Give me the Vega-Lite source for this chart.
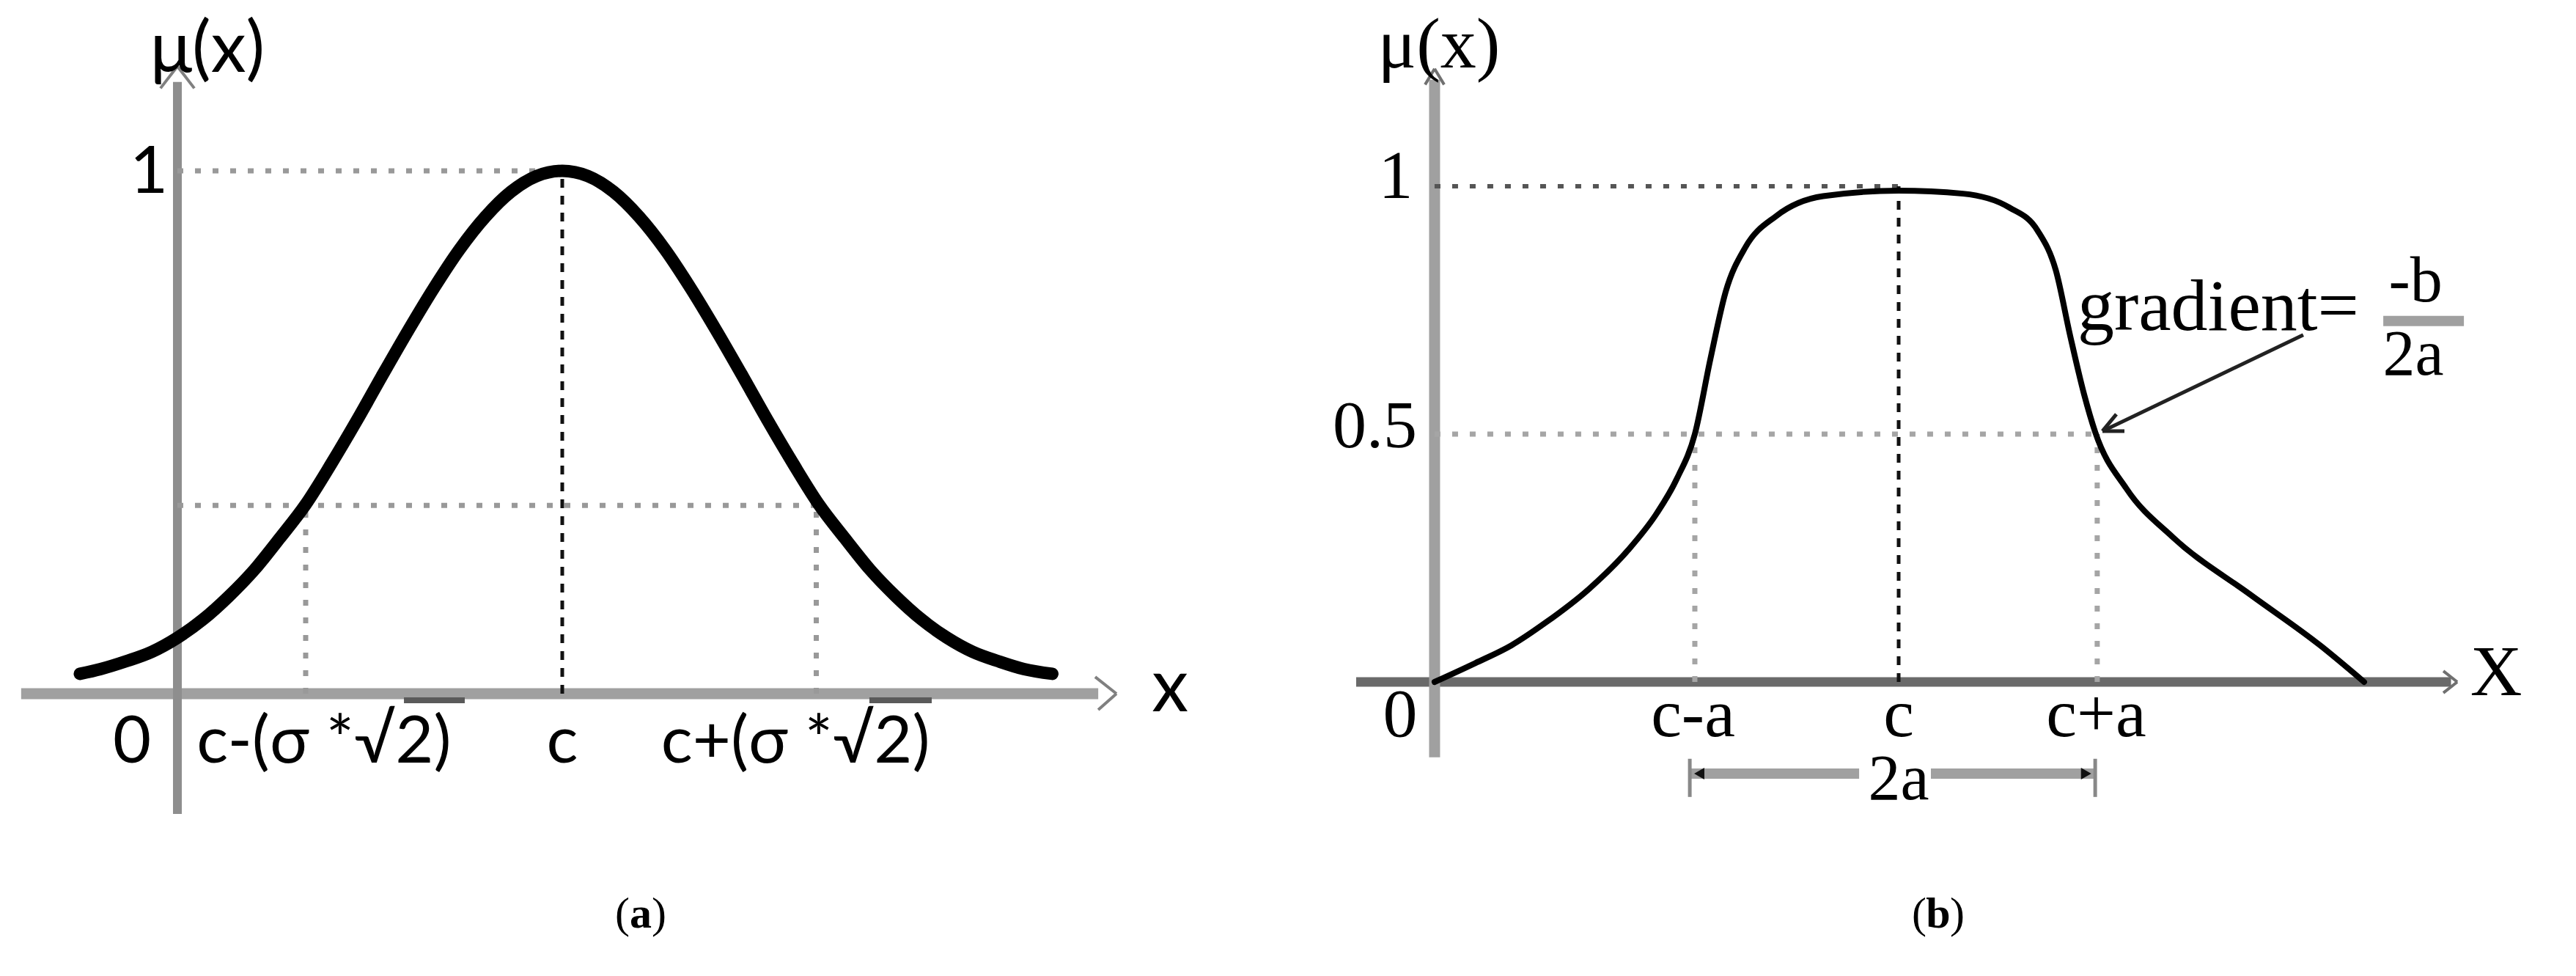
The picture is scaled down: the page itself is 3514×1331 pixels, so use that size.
{
  "$schema": "https://vega.github.io/schema/vega-lite/v6.json",
  "padding": 0,
  "spacing": 0,
  "background": "white",
  "config": {"view": {"stroke": null}},
  "datasets": {
    "curveA": [
      {"x": -1.88, "mu": 0.038}, {"x": -1.8, "mu": 0.047}, {"x": -1.7, "mu": 0.062}, {"x": -1.6, "mu": 0.08},
      {"x": -1.5, "mu": 0.107}, {"x": -1.4, "mu": 0.142}, {"x": -1.3, "mu": 0.186}, {"x": -1.2, "mu": 0.237},
      {"x": -1.1, "mu": 0.298}, {"x": -1.0, "mu": 0.362}, {"x": -0.9, "mu": 0.44}, {"x": -0.8, "mu": 0.523},
      {"x": -0.7, "mu": 0.61}, {"x": -0.6, "mu": 0.695}, {"x": -0.5, "mu": 0.776}, {"x": -0.4, "mu": 0.85},
      {"x": -0.3, "mu": 0.912}, {"x": -0.2, "mu": 0.96}, {"x": -0.1, "mu": 0.99}, {"x": 0, "mu": 1.0},
      {"x": 0.1, "mu": 0.99}, {"x": 0.2, "mu": 0.96}, {"x": 0.3, "mu": 0.912}, {"x": 0.4, "mu": 0.85},
      {"x": 0.5, "mu": 0.776}, {"x": 0.6, "mu": 0.695}, {"x": 0.7, "mu": 0.61}, {"x": 0.8, "mu": 0.523},
      {"x": 0.9, "mu": 0.44}, {"x": 1.0, "mu": 0.362}, {"x": 1.1, "mu": 0.298}, {"x": 1.2, "mu": 0.237},
      {"x": 1.3, "mu": 0.186}, {"x": 1.4, "mu": 0.142}, {"x": 1.5, "mu": 0.107}, {"x": 1.6, "mu": 0.08},
      {"x": 1.7, "mu": 0.062}, {"x": 1.8, "mu": 0.047}, {"x": 1.91, "mu": 0.038}
    ],
    "curveB": [
      {"x": -2.302, "mu": 0}, {"x": -2.1, "mu": 0.038}, {"x": -1.92, "mu": 0.074}, {"x": -1.75, "mu": 0.12},
      {"x": -1.535, "mu": 0.188}, {"x": -1.342, "mu": 0.266}, {"x": -1.2, "mu": 0.34}, {"x": -1.1, "mu": 0.41},
      {"x": -1.011, "mu": 0.5}, {"x": -0.934, "mu": 0.651}, {"x": -0.858, "mu": 0.787}, {"x": -0.76, "mu": 0.877},
      {"x": -0.607, "mu": 0.94}, {"x": -0.375, "mu": 0.98}, {"x": 0, "mu": 0.991}, {"x": 0.32, "mu": 0.985},
      {"x": 0.549, "mu": 0.957}, {"x": 0.69, "mu": 0.91}, {"x": 0.78, "mu": 0.83}, {"x": 0.85, "mu": 0.7},
      {"x": 0.92, "mu": 0.58}, {"x": 0.975, "mu": 0.504}, {"x": 1.13, "mu": 0.39}, {"x": 1.36, "mu": 0.292},
      {"x": 1.745, "mu": 0.176}, {"x": 2.09, "mu": 0.074}, {"x": 2.309, "mu": 0}
    ],
    "segA": [
      {"kind": "axisX", "x": -2.109, "y": 0, "x2": 2.089, "y2": 0},
      {"kind": "axisY", "x": -1.5, "y": -0.23, "x2": -1.5, "y2": 1.17},
      {"kind": "arrow", "x": 2.077, "y": 0.032, "x2": 2.16, "y2": 0},
      {"kind": "arrow", "x": 2.16, "y": 0, "x2": 2.089, "y2": -0.031},
      {"kind": "arrow", "x": -1.566, "y": 1.158, "x2": -1.5, "y2": 1.2},
      {"kind": "arrow", "x": -1.5, "y": 1.2, "x2": -1.434, "y2": 1.158},
      {"kind": "dotted", "x": -1.5, "y": 1, "x2": 0, "y2": 1},
      {"kind": "dotted", "x": -1.5, "y": 0.36, "x2": 0.99, "y2": 0.36},
      {"kind": "dotted", "x": -1, "y": 0, "x2": -1, "y2": 0.36},
      {"kind": "dotted", "x": 0.99, "y": 0, "x2": 0.99, "y2": 0.36},
      {"kind": "dashed", "x": 0, "y": 0, "x2": 0, "y2": 1},
      {"kind": "overline", "x": -0.617, "y": -0.0126, "x2": -0.38, "y2": -0.0126},
      {"kind": "overline", "x": 1.197, "y": -0.0126, "x2": 1.44, "y2": -0.0126}
    ],
    "segB": [
      {"kind": "axisX", "x": -2.691, "y": 0, "x2": 2.74, "y2": 0},
      {"kind": "axisY", "x": -2.302, "y": -0.152, "x2": -2.302, "y2": 1.215},
      {"kind": "arrow", "x": -2.349, "y": 1.205, "x2": -2.302, "y2": 1.237},
      {"kind": "arrow", "x": -2.302, "y": 1.237, "x2": -2.2545, "y2": 1.205},
      {"kind": "arrow", "x": 2.702, "y": 0.022, "x2": 2.771, "y2": 0},
      {"kind": "arrow", "x": 2.771, "y": 0, "x2": 2.702, "y2": -0.022},
      {"kind": "dottedDark", "x": -2.302, "y": 1, "x2": 0, "y2": 1},
      {"kind": "dotted", "x": -2.302, "y": 0.5, "x2": 0.985, "y2": 0.5},
      {"kind": "dotted", "x": -1.011, "y": 0, "x2": -1.011, "y2": 0.5},
      {"kind": "dotted", "x": 0.985, "y": 0, "x2": 0.985, "y2": 0.5},
      {"kind": "dashed", "x": 0, "y": 0, "x2": 0, "y2": 1},
      {"kind": "dim", "x": -1.036, "y": -0.185, "x2": -0.196, "y2": -0.185},
      {"kind": "dim", "x": 0.16, "y": -0.185, "x2": 0.975, "y2": -0.185},
      {"kind": "dim", "x": 2.404, "y": 0.728, "x2": 2.804, "y2": 0.728},
      {"kind": "tick", "x": -1.036, "y": -0.155, "x2": -1.036, "y2": -0.232},
      {"kind": "tick", "x": 0.975, "y": -0.155, "x2": 0.975, "y2": -0.232},
      {"kind": "pointer", "x": 2.007, "y": 0.7, "x2": 1.011, "y2": 0.506},
      {"kind": "pointer", "x": 1.011, "y": 0.506, "x2": 1.12, "y2": 0.506},
      {"kind": "pointer", "x": 1.011, "y": 0.506, "x2": 1.08, "y2": 0.54}
    ],
    "textA": [
      {"role": "yTitle", "label": "μ(x)", "x": -1.383, "y": 1.19},
      {"role": "xTitle", "label": "x", "x": 2.369, "y": -0.034},
      {"role": "tick", "label": "1", "x": -1.611, "y": 0.958},
      {"role": "tick", "label": "0", "x": -1.677, "y": -0.132},
      {"role": "tick", "label": "c-(σ *√2)", "x": -0.929, "y": -0.132},
      {"role": "tick", "label": "c", "x": 0, "y": -0.132},
      {"role": "tick", "label": "c+(σ *√2)", "x": 0.909, "y": -0.132}
    ],
    "textB": [
      {"role": "yTitle", "label": "μ(x)", "x": -2.28, "y": 1.24},
      {"role": "xTitle", "label": "X", "x": 2.964, "y": -0.027},
      {"role": "tick", "label": "1", "x": -2.495, "y": 0.976},
      {"role": "tick", "label": "0", "x": -2.473, "y": -0.11},
      {"role": "tick", "label": "c-a", "x": -1.02, "y": -0.11},
      {"role": "tick", "label": "c", "x": 0, "y": -0.11},
      {"role": "tick", "label": "c+a", "x": 0.98, "y": -0.11},
      {"role": "dim", "label": "2a", "x": 0, "y": -0.236},
      {"role": "fraction", "label": "-b", "x": 2.564, "y": 0.768},
      {"role": "fraction", "label": "2a", "x": 2.553, "y": 0.62},
      {"role": "value", "label": "0.5", "x": -2.389, "y": 0.473},
      {"role": "annotation", "label": "gradient=", "x": 0.887, "y": 0.71}
    ],
    "dimEnds": [
      {"x": -0.989, "y": -0.185, "dir": "left"},
      {"x": 0.93, "y": -0.185, "dir": "right"}
    ],
    "capA": [{"x": 0.306, "y": -0.447, "letter": "a"}],
    "capB": [{"x": 0.196, "y": -0.4956, "letter": "b"}]
  },
  "hconcat": [
    {
      "width": 1757,
      "height": 1331,
      "layer": [
        {"data": {"name": "segA"}, "transform": [{"filter": "datum.kind === 'axisX'"}],
         "mark": {"type": "rule", "color": "#a0a0a0", "strokeWidth": 15},
         "encoding": {"x": {"field": "x", "type": "quantitative", "scale": {"domain": [-2.1914, 2.8286], "nice": false, "zero": false}, "axis": null},
                      "y": {"field": "y", "type": "quantitative", "scale": {"domain": [-0.54, 1.3268], "nice": false, "zero": false}, "axis": null},
                      "x2": {"field": "x2"}, "y2": {"field": "y2"}}},
        {"data": {"name": "segA"}, "transform": [{"filter": "datum.kind === 'axisY'"}],
         "mark": {"type": "rule", "color": "#8e8e8e", "strokeWidth": 12},
         "encoding": {"x": {"field": "x", "type": "quantitative", "scale": {"domain": [-2.1914, 2.8286], "nice": false, "zero": false}, "axis": null},
                      "y": {"field": "y", "type": "quantitative", "scale": {"domain": [-0.54, 1.3268], "nice": false, "zero": false}, "axis": null},
                      "x2": {"field": "x2"}, "y2": {"field": "y2"}}},
        {"data": {"name": "segA"}, "transform": [{"filter": "datum.kind === 'arrow'"}],
         "mark": {"type": "rule", "color": "#808080", "strokeWidth": 4},
         "encoding": {"x": {"field": "x", "type": "quantitative", "scale": {"domain": [-2.1914, 2.8286], "nice": false, "zero": false}, "axis": null},
                      "y": {"field": "y", "type": "quantitative", "scale": {"domain": [-0.54, 1.3268], "nice": false, "zero": false}, "axis": null},
                      "x2": {"field": "x2"}, "y2": {"field": "y2"}}},
        {"data": {"name": "segA"}, "transform": [{"filter": "datum.kind === 'dotted'"}],
         "mark": {"type": "rule", "color": "#999999", "strokeWidth": 7, "strokeDash": [8, 16]},
         "encoding": {"x": {"field": "x", "type": "quantitative", "scale": {"domain": [-2.1914, 2.8286], "nice": false, "zero": false}, "axis": null},
                      "y": {"field": "y", "type": "quantitative", "scale": {"domain": [-0.54, 1.3268], "nice": false, "zero": false}, "axis": null},
                      "x2": {"field": "x2"}, "y2": {"field": "y2"}}},
        {"data": {"name": "segA"}, "transform": [{"filter": "datum.kind === 'dashed'"}],
         "mark": {"type": "rule", "color": "#111111", "strokeWidth": 5, "strokeDash": [12, 11]},
         "encoding": {"x": {"field": "x", "type": "quantitative", "scale": {"domain": [-2.1914, 2.8286], "nice": false, "zero": false}, "axis": null},
                      "y": {"field": "y", "type": "quantitative", "scale": {"domain": [-0.54, 1.3268], "nice": false, "zero": false}, "axis": null},
                      "x2": {"field": "x2"}, "y2": {"field": "y2"}}},
        {"data": {"name": "segA"}, "transform": [{"filter": "datum.kind === 'overline'"}],
         "mark": {"type": "rule", "color": "#5a5a5a", "strokeWidth": 8},
         "encoding": {"x": {"field": "x", "type": "quantitative", "scale": {"domain": [-2.1914, 2.8286], "nice": false, "zero": false}, "axis": null},
                      "y": {"field": "y", "type": "quantitative", "scale": {"domain": [-0.54, 1.3268], "nice": false, "zero": false}, "axis": null},
                      "x2": {"field": "x2"}, "y2": {"field": "y2"}}},
        {"data": {"name": "curveA"},
         "mark": {"type": "line", "color": "#000000", "strokeWidth": 17, "interpolate": "monotone", "strokeCap": "round", "strokeJoin": "round"},
         "encoding": {"x": {"field": "x", "type": "quantitative", "scale": {"domain": [-2.1914, 2.8286], "nice": false, "zero": false}, "axis": null},
                      "y": {"field": "mu", "type": "quantitative", "scale": {"domain": [-0.54, 1.3268], "nice": false, "zero": false}, "axis": null},
                      "order": {"field": "x", "type": "quantitative"}}},
        {"data": {"name": "textA"}, "transform": [{"filter": "datum.role === 'tick'"}],
         "mark": {"type": "text", "font": "Lato, DejaVu Sans", "fontSize": 90, "align": "center", "baseline": "alphabetic", "color": "#000000"},
         "encoding": {"x": {"field": "x", "type": "quantitative", "scale": {"domain": [-2.1914, 2.8286], "nice": false, "zero": false}, "axis": null},
                      "y": {"field": "y", "type": "quantitative", "scale": {"domain": [-0.54, 1.3268], "nice": false, "zero": false}, "axis": null},
                      "text": {"field": "label"}}},
        {"data": {"name": "textA"}, "transform": [{"filter": "datum.role === 'yTitle'"}],
         "mark": {"type": "text", "font": "Lato, DejaVu Sans", "fontSize": 96, "align": "center", "baseline": "alphabetic", "color": "#000000"},
         "encoding": {"x": {"field": "x", "type": "quantitative", "scale": {"domain": [-2.1914, 2.8286], "nice": false, "zero": false}, "axis": null},
                      "y": {"field": "y", "type": "quantitative", "scale": {"domain": [-0.54, 1.3268], "nice": false, "zero": false}, "axis": null},
                      "text": {"field": "label"}}},
        {"data": {"name": "textA"}, "transform": [{"filter": "datum.role === 'xTitle'"}],
         "mark": {"type": "text", "font": "Lato, DejaVu Sans", "fontSize": 100, "align": "center", "baseline": "alphabetic", "color": "#000000"},
         "encoding": {"x": {"field": "x", "type": "quantitative", "scale": {"domain": [-2.1914, 2.8286], "nice": false, "zero": false}, "axis": null},
                      "y": {"field": "y", "type": "quantitative", "scale": {"domain": [-0.54, 1.3268], "nice": false, "zero": false}, "axis": null},
                      "text": {"field": "label"}}},
        {"data": {"name": "capA"},
         "mark": {"type": "text", "font": "Liberation Serif", "fontSize": 60, "fontWeight": "bold", "align": "center", "baseline": "alphabetic", "color": "#000000"},
         "encoding": {"x": {"field": "x", "type": "quantitative", "scale": {"domain": [-2.1914, 2.8286], "nice": false, "zero": false}, "axis": null},
                      "y": {"field": "y", "type": "quantitative", "scale": {"domain": [-0.54, 1.3268], "nice": false, "zero": false}, "axis": null},
                      "text": {"field": "letter"}}},
        {"data": {"name": "capA"},
         "mark": {"type": "text", "font": "Liberation Serif", "fontSize": 60, "align": "right", "dx": -15, "baseline": "alphabetic", "color": "#000000"},
         "encoding": {"x": {"field": "x", "type": "quantitative", "scale": {"domain": [-2.1914, 2.8286], "nice": false, "zero": false}, "axis": null},
                      "y": {"field": "y", "type": "quantitative", "scale": {"domain": [-0.54, 1.3268], "nice": false, "zero": false}, "axis": null},
                      "text": {"value": "("}}},
        {"data": {"name": "capA"},
         "mark": {"type": "text", "font": "Liberation Serif", "fontSize": 60, "align": "left", "dx": 15, "baseline": "alphabetic", "color": "#000000"},
         "encoding": {"x": {"field": "x", "type": "quantitative", "scale": {"domain": [-2.1914, 2.8286], "nice": false, "zero": false}, "axis": null},
                      "y": {"field": "y", "type": "quantitative", "scale": {"domain": [-0.54, 1.3268], "nice": false, "zero": false}, "axis": null},
                      "text": {"value": ")"}}}
      ]
    },
    {
      "width": 1757,
      "height": 1331,
      "layer": [
        {"data": {"name": "segB"}, "transform": [{"filter": "datum.kind === 'axisX'"}],
         "mark": {"type": "rule", "color": "#6a6a6a", "strokeWidth": 13},
         "encoding": {"x": {"field": "x", "type": "quantitative", "scale": {"domain": [-3.0291, 3.36], "nice": false, "zero": false}, "axis": null},
                      "y": {"field": "y", "type": "quantitative", "scale": {"domain": [-0.5932, 1.3757], "nice": false, "zero": false}, "axis": null},
                      "x2": {"field": "x2"}, "y2": {"field": "y2"}}},
        {"data": {"name": "segB"}, "transform": [{"filter": "datum.kind === 'axisY'"}],
         "mark": {"type": "rule", "color": "#a0a0a0", "strokeWidth": 15},
         "encoding": {"x": {"field": "x", "type": "quantitative", "scale": {"domain": [-3.0291, 3.36], "nice": false, "zero": false}, "axis": null},
                      "y": {"field": "y", "type": "quantitative", "scale": {"domain": [-0.5932, 1.3757], "nice": false, "zero": false}, "axis": null},
                      "x2": {"field": "x2"}, "y2": {"field": "y2"}}},
        {"data": {"name": "segB"}, "transform": [{"filter": "datum.kind === 'arrow'"}],
         "mark": {"type": "rule", "color": "#707070", "strokeWidth": 4},
         "encoding": {"x": {"field": "x", "type": "quantitative", "scale": {"domain": [-3.0291, 3.36], "nice": false, "zero": false}, "axis": null},
                      "y": {"field": "y", "type": "quantitative", "scale": {"domain": [-0.5932, 1.3757], "nice": false, "zero": false}, "axis": null},
                      "x2": {"field": "x2"}, "y2": {"field": "y2"}}},
        {"data": {"name": "segB"}, "transform": [{"filter": "datum.kind === 'dotted'"}],
         "mark": {"type": "rule", "color": "#a5a5a5", "strokeWidth": 7, "strokeDash": [8, 16]},
         "encoding": {"x": {"field": "x", "type": "quantitative", "scale": {"domain": [-3.0291, 3.36], "nice": false, "zero": false}, "axis": null},
                      "y": {"field": "y", "type": "quantitative", "scale": {"domain": [-0.5932, 1.3757], "nice": false, "zero": false}, "axis": null},
                      "x2": {"field": "x2"}, "y2": {"field": "y2"}}},
        {"data": {"name": "segB"}, "transform": [{"filter": "datum.kind === 'dottedDark'"}],
         "mark": {"type": "rule", "color": "#555555", "strokeWidth": 6, "strokeDash": [8, 16]},
         "encoding": {"x": {"field": "x", "type": "quantitative", "scale": {"domain": [-3.0291, 3.36], "nice": false, "zero": false}, "axis": null},
                      "y": {"field": "y", "type": "quantitative", "scale": {"domain": [-0.5932, 1.3757], "nice": false, "zero": false}, "axis": null},
                      "x2": {"field": "x2"}, "y2": {"field": "y2"}}},
        {"data": {"name": "segB"}, "transform": [{"filter": "datum.kind === 'dashed'"}],
         "mark": {"type": "rule", "color": "#111111", "strokeWidth": 5, "strokeDash": [12, 11]},
         "encoding": {"x": {"field": "x", "type": "quantitative", "scale": {"domain": [-3.0291, 3.36], "nice": false, "zero": false}, "axis": null},
                      "y": {"field": "y", "type": "quantitative", "scale": {"domain": [-0.5932, 1.3757], "nice": false, "zero": false}, "axis": null},
                      "x2": {"field": "x2"}, "y2": {"field": "y2"}}},
        {"data": {"name": "segB"}, "transform": [{"filter": "datum.kind === 'dim'"}],
         "mark": {"type": "rule", "color": "#a0a0a0", "strokeWidth": 14},
         "encoding": {"x": {"field": "x", "type": "quantitative", "scale": {"domain": [-3.0291, 3.36], "nice": false, "zero": false}, "axis": null},
                      "y": {"field": "y", "type": "quantitative", "scale": {"domain": [-0.5932, 1.3757], "nice": false, "zero": false}, "axis": null},
                      "x2": {"field": "x2"}, "y2": {"field": "y2"}}},
        {"data": {"name": "segB"}, "transform": [{"filter": "datum.kind === 'tick'"}],
         "mark": {"type": "rule", "color": "#888888", "strokeWidth": 5},
         "encoding": {"x": {"field": "x", "type": "quantitative", "scale": {"domain": [-3.0291, 3.36], "nice": false, "zero": false}, "axis": null},
                      "y": {"field": "y", "type": "quantitative", "scale": {"domain": [-0.5932, 1.3757], "nice": false, "zero": false}, "axis": null},
                      "x2": {"field": "x2"}, "y2": {"field": "y2"}}},
        {"data": {"name": "segB"}, "transform": [{"filter": "datum.kind === 'pointer'"}],
         "mark": {"type": "rule", "color": "#222222", "strokeWidth": 5},
         "encoding": {"x": {"field": "x", "type": "quantitative", "scale": {"domain": [-3.0291, 3.36], "nice": false, "zero": false}, "axis": null},
                      "y": {"field": "y", "type": "quantitative", "scale": {"domain": [-0.5932, 1.3757], "nice": false, "zero": false}, "axis": null},
                      "x2": {"field": "x2"}, "y2": {"field": "y2"}}},
        {"data": {"name": "curveB"},
         "mark": {"type": "line", "color": "#000000", "strokeWidth": 8, "interpolate": "monotone", "strokeCap": "round", "strokeJoin": "round"},
         "encoding": {"x": {"field": "x", "type": "quantitative", "scale": {"domain": [-3.0291, 3.36], "nice": false, "zero": false}, "axis": null},
                      "y": {"field": "mu", "type": "quantitative", "scale": {"domain": [-0.5932, 1.3757], "nice": false, "zero": false}, "axis": null},
                      "order": {"field": "x", "type": "quantitative"}}},
        {"data": {"name": "dimEnds"},
         "mark": {"type": "point", "filled": true, "color": "#111111", "size": 260, "opacity": 1},
         "encoding": {"x": {"field": "x", "type": "quantitative", "scale": {"domain": [-3.0291, 3.36], "nice": false, "zero": false}, "axis": null},
                      "y": {"field": "y", "type": "quantitative", "scale": {"domain": [-0.5932, 1.3757], "nice": false, "zero": false}, "axis": null},
                      "shape": {"field": "dir", "type": "nominal", "scale": {"domain": ["left", "right"], "range": ["triangle-left", "triangle-right"]}, "legend": null}}},
        {"data": {"name": "textB"}, "transform": [{"filter": "datum.role === 'yTitle' || datum.role === 'xTitle'"}],
         "mark": {"type": "text", "font": "Liberation Serif", "fontSize": 98, "align": "center", "baseline": "alphabetic", "color": "#000000"},
         "encoding": {"x": {"field": "x", "type": "quantitative", "scale": {"domain": [-3.0291, 3.36], "nice": false, "zero": false}, "axis": null},
                      "y": {"field": "y", "type": "quantitative", "scale": {"domain": [-0.5932, 1.3757], "nice": false, "zero": false}, "axis": null},
                      "text": {"field": "label"}}},
        {"data": {"name": "textB"}, "transform": [{"filter": "datum.role === 'tick'"}],
         "mark": {"type": "text", "font": "Liberation Serif", "fontSize": 94, "align": "center", "baseline": "alphabetic", "color": "#000000"},
         "encoding": {"x": {"field": "x", "type": "quantitative", "scale": {"domain": [-3.0291, 3.36], "nice": false, "zero": false}, "axis": null},
                      "y": {"field": "y", "type": "quantitative", "scale": {"domain": [-0.5932, 1.3757], "nice": false, "zero": false}, "axis": null},
                      "text": {"field": "label"}}},
        {"data": {"name": "textB"}, "transform": [{"filter": "datum.role === 'dim'"}],
         "mark": {"type": "text", "font": "Liberation Serif", "fontSize": 88, "align": "center", "baseline": "alphabetic", "color": "#000000"},
         "encoding": {"x": {"field": "x", "type": "quantitative", "scale": {"domain": [-3.0291, 3.36], "nice": false, "zero": false}, "axis": null},
                      "y": {"field": "y", "type": "quantitative", "scale": {"domain": [-0.5932, 1.3757], "nice": false, "zero": false}, "axis": null},
                      "text": {"field": "label"}}},
        {"data": {"name": "textB"}, "transform": [{"filter": "datum.role === 'fraction'"}],
         "mark": {"type": "text", "font": "Liberation Serif", "fontSize": 88, "align": "center", "baseline": "alphabetic", "color": "#000000"},
         "encoding": {"x": {"field": "x", "type": "quantitative", "scale": {"domain": [-3.0291, 3.36], "nice": false, "zero": false}, "axis": null},
                      "y": {"field": "y", "type": "quantitative", "scale": {"domain": [-0.5932, 1.3757], "nice": false, "zero": false}, "axis": null},
                      "text": {"field": "label"}}},
        {"data": {"name": "textB"}, "transform": [{"filter": "datum.role === 'value'"}],
         "mark": {"type": "text", "font": "Liberation Serif", "fontSize": 92, "align": "right", "baseline": "alphabetic", "color": "#000000"},
         "encoding": {"x": {"field": "x", "type": "quantitative", "scale": {"domain": [-3.0291, 3.36], "nice": false, "zero": false}, "axis": null},
                      "y": {"field": "y", "type": "quantitative", "scale": {"domain": [-0.5932, 1.3757], "nice": false, "zero": false}, "axis": null},
                      "text": {"field": "label"}}},
        {"data": {"name": "textB"}, "transform": [{"filter": "datum.role === 'annotation'"}],
         "mark": {"type": "text", "font": "Liberation Serif", "fontSize": 100, "align": "left", "baseline": "alphabetic", "color": "#000000"},
         "encoding": {"x": {"field": "x", "type": "quantitative", "scale": {"domain": [-3.0291, 3.36], "nice": false, "zero": false}, "axis": null},
                      "y": {"field": "y", "type": "quantitative", "scale": {"domain": [-0.5932, 1.3757], "nice": false, "zero": false}, "axis": null},
                      "text": {"field": "label"}}},
        {"data": {"name": "capB"},
         "mark": {"type": "text", "font": "Liberation Serif", "fontSize": 60, "fontWeight": "bold", "align": "center", "baseline": "alphabetic", "color": "#000000"},
         "encoding": {"x": {"field": "x", "type": "quantitative", "scale": {"domain": [-3.0291, 3.36], "nice": false, "zero": false}, "axis": null},
                      "y": {"field": "y", "type": "quantitative", "scale": {"domain": [-0.5932, 1.3757], "nice": false, "zero": false}, "axis": null},
                      "text": {"field": "letter"}}},
        {"data": {"name": "capB"},
         "mark": {"type": "text", "font": "Liberation Serif", "fontSize": 60, "align": "right", "dx": -16, "baseline": "alphabetic", "color": "#000000"},
         "encoding": {"x": {"field": "x", "type": "quantitative", "scale": {"domain": [-3.0291, 3.36], "nice": false, "zero": false}, "axis": null},
                      "y": {"field": "y", "type": "quantitative", "scale": {"domain": [-0.5932, 1.3757], "nice": false, "zero": false}, "axis": null},
                      "text": {"value": "("}}},
        {"data": {"name": "capB"},
         "mark": {"type": "text", "font": "Liberation Serif", "fontSize": 60, "align": "left", "dx": 16, "baseline": "alphabetic", "color": "#000000"},
         "encoding": {"x": {"field": "x", "type": "quantitative", "scale": {"domain": [-3.0291, 3.36], "nice": false, "zero": false}, "axis": null},
                      "y": {"field": "y", "type": "quantitative", "scale": {"domain": [-0.5932, 1.3757], "nice": false, "zero": false}, "axis": null},
                      "text": {"value": ")"}}}
      ]
    }
  ]
}
